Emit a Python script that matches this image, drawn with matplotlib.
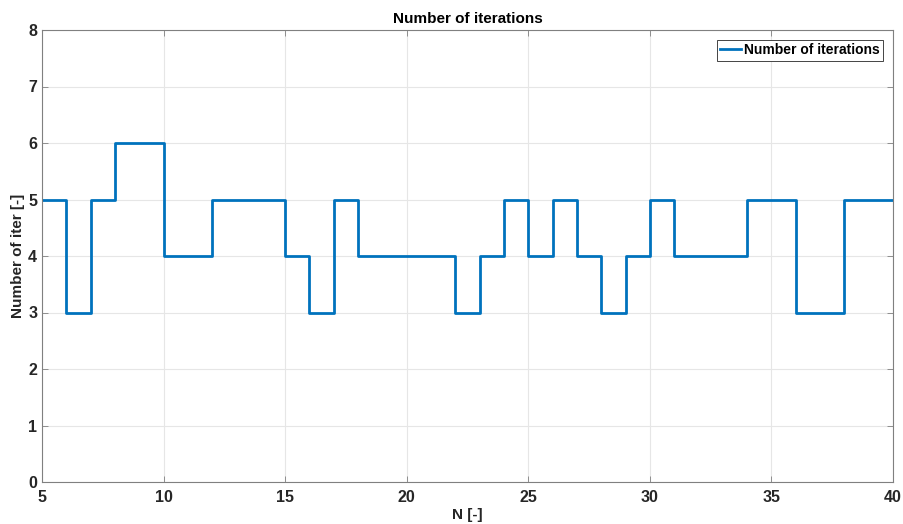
import matplotlib.pyplot as plt

# iteration count per N (stairs, held until next N)
N = list(range(5, 41))
iters = [5, 3, 5, 6, 6, 4, 4, 5, 5, 5, 4, 3, 5, 4, 4, 4, 4, 3, 4, 5,
         4, 5, 4, 3, 4, 5, 4, 4, 4, 5, 5, 3, 3, 5, 5, 5]
xticks = [5, 10, 15, 20, 25, 30, 35, 40]
yticks = list(range(0, 9))

plt.rcParams['font.family'] = ['Liberation Sans', 'DejaVu Sans']
plt.rcParams['font.weight'] = 'bold'

fig = plt.figure(figsize=(9.04, 5.24), dpi=100)
ax = fig.add_axes([42 / 904, 42 / 524, 851 / 904, 452 / 524])

ax.step(N, iters, where='post', color='#0072BD', linewidth=2,
        label='Number of iterations')

ax.set_xlim(5, 40)
ax.set_ylim(0, 8)
ax.set_xticks(xticks)
ax.set_yticks(yticks)
ax.grid(True, color='#e6e6e6', linewidth=0.8)
ax.set_axisbelow(True)

for s in ax.spines.values():
    s.set_color('#808080')
    s.set_linewidth(0.8)
ax.tick_params(direction='in', length=4, width=0.6, colors='#808080',
               labelcolor='#262626', labelsize=11.5, top=True, right=True)
ax.tick_params(axis='x', pad=6)
for lbl in ax.get_xticklabels() + ax.get_yticklabels():
    lbl.set_fontweight('bold')

ax.set_title('Number of iterations', fontsize=11, fontweight='bold',
             color='black', pad=5)
ax.set_xlabel('N [-]', fontsize=11, fontweight='bold', color='#262626',
              labelpad=2)
ax.set_ylabel('Number of iter [-]', fontsize=11, fontweight='bold',
              color='#262626', labelpad=2)

leg = ax.legend(loc='upper right', fontsize=10, handlelength=1.5,
                handletextpad=0.2, borderpad=0.25, borderaxespad=0.7,
                fancybox=False, framealpha=1)
leg.get_frame().set_edgecolor('#262626')
leg.get_frame().set_linewidth(0.6)

fig.savefig('out.png', dpi=100)
